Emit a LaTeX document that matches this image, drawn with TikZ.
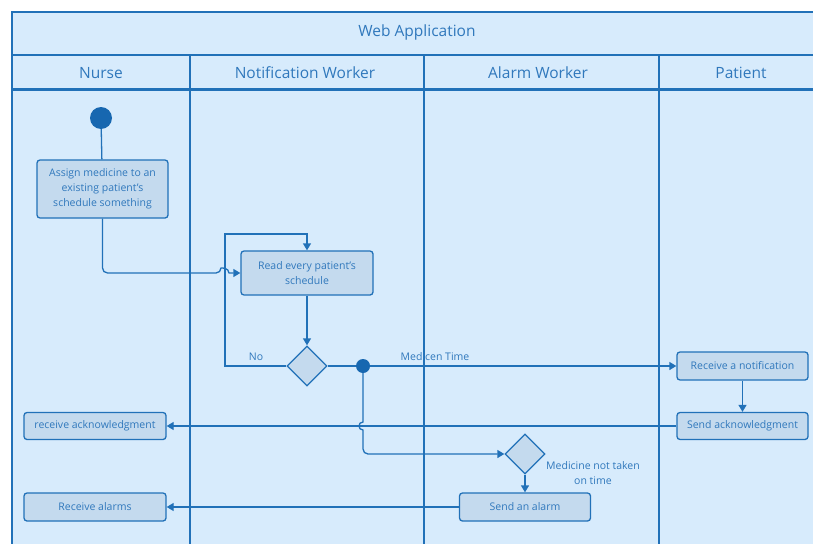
\documentclass[tikz,border=0pt]{standalone}
\usepackage{fontspec}
\setmainfont{Open Sans}
\usetikzlibrary{shapes.geometric, arrows.meta}

\definecolor{lanefill}{HTML}{D7EBFC}
\definecolor{edge}{HTML}{2171B8}
\definecolor{boxfill}{HTML}{C4DAEE}
\definecolor{ink}{HTML}{3078BC}
\definecolor{dot}{HTML}{1767B0}

\tikzset{
  act/.style={draw=edge, fill=boxfill, rounded corners=3pt, line width=1.3pt,
    text=ink, font=\fontsize{10.5}{15}\selectfont, align=center, inner sep=0pt},
  choice/.style={diamond, draw=edge, fill=boxfill, line width=1.3pt,
    minimum width=40pt, minimum height=40pt, inner sep=0pt},
  line/.style={draw=edge, line width=1.3pt},
  flow/.style={line, -{Triangle[length=7pt,width=8pt]}},
  lbl/.style={text=ink, font=\fontsize{10.5}{15}\selectfont, align=center},
  head/.style={text=ink, font=\fontsize{15.5}{18}\selectfont}
}

\begin{document}
\begin{tikzpicture}[x=1pt, y=-1pt]
  \useasboundingbox (0,0) rectangle (813,543);
  \clip (0,0) rectangle (813,543);

  % pool and lanes
  \fill[lanefill] (12,12) rectangle (840,560);
  \draw[line] (12,560) -- (12,12) -- (840,12);
  \draw[line] (12,55) -- (840,55);
  \draw[line, line width=2.2pt] (12,89.5) -- (840,89.5);
  \foreach \x in {190, 424, 659}
    \draw[line] (\x,55) -- (\x,560);

  \node[head] (pool) at (417,32) {Web Application};
  \node[head] (nurse) at (101,73) {Nurse};
  \node[head] (notifier) at (305,73) {Notification Worker};
  \node[head] (alarmer) at (538,73) {Alarm Worker};
  \node[head] (patient) at (741,73) {Patient};

  % activities
  \node[circle, fill=dot, minimum size=22pt, inner sep=0pt] (start) at (101,118) {};
  \node[act, minimum width=131pt, minimum height=58pt] (assign) at (102.5,189)
    {Assign medicine to an\\existing patient's\\schedule something};
  \node[act, minimum width=132pt, minimum height=44pt] (read) at (307,273)
    {Read every patient's\\schedule};
  \node[choice] (check) at (307,366) {};
  \node[circle, fill=dot, minimum size=14pt, inner sep=0pt] (fork) at (363,366) {};
  \node[act, minimum width=131pt, minimum height=28pt] (notify) at (742.5,366)
    {Receive a notification};
  \node[act, minimum width=131pt, minimum height=27pt] (sendack) at (742.5,426)
    {Send acknowledgment};
  \node[act, minimum width=142pt, minimum height=27pt] (recvack) at (95,426)
    {receive acknowledgment};
  \node[choice] (due) at (525,454) {};
  \node[act, minimum width=131pt, minimum height=28pt] (alarm) at (525,507)
    {Send an alarm};
  \node[act, minimum width=142pt, minimum height=28pt] (recvalarm) at (95,507)
    {Receive alarms};

  % flows
  \draw[line] (start) -- (assign);
  \draw[flow] (assign.south) [rounded corners=5pt] |- (221,273) [sharp corners]
    .. controls (221,267.7) and (229,267.7) .. (229,273) -- (read.west);
  \draw[flow] (read) -- (check);
  \draw[flow] (check.west) -| (225,234) -| (read.north);
  \node[lbl] (no) at (256,357) {No};
  \draw[line] (check.east) -- (fork);
  \draw[flow] (fork) -- (notify.west);
  \node[lbl] (time) at (435,357) {Medicen Time};
  \draw[flow] (notify) -- (sendack);
  \draw[flow] (sendack.west) -- (recvack.east);
  \draw[flow] (fork) -- (363,422) .. controls (357.7,422) and (357.7,430) .. (363,430)
    [rounded corners=5pt] |- (due.west);
  \node[lbl] (late) at (593,473) {Medicine not taken\\on time};
  \draw[flow] (due) -- (alarm);
  \draw[flow] (alarm.west) -- (recvalarm.east);
\end{tikzpicture}
\end{document}
